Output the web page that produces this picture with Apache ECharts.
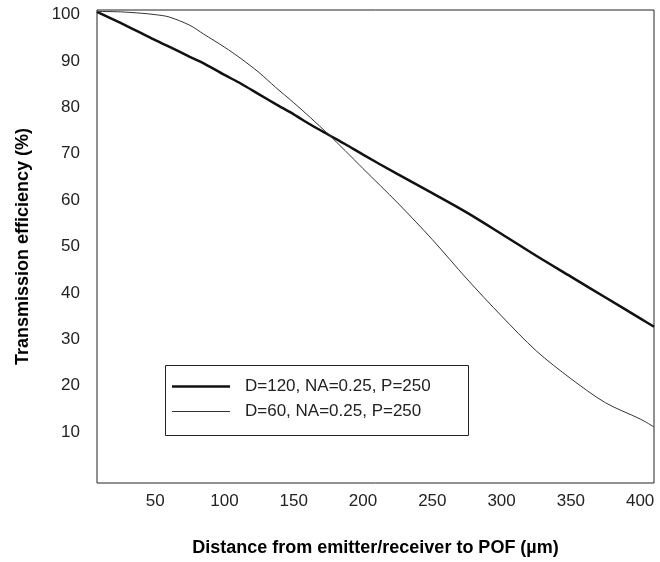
<!DOCTYPE html>
<html>
<head>
<meta charset="utf-8">
<script src="https://cdn.jsdelivr.net/npm/echarts@6/dist/echarts.min.js"></script>
<style>html,body{margin:0;padding:0;background:#fff;}#c{width:660px;height:562px;}</style>
</head>
<body>
<div id="c"></div>
<script>
// Distance from emitter/receiver to POF (µm)
const distance = [8, 25, 40, 50, 60, 75, 85, 100, 112, 125, 137, 150, 162, 175, 187, 200, 225, 250, 275, 300, 325, 350, 375, 400, 410];
// Transmission efficiency (%)
const effD120 = [100.6, 98.2, 96.0, 94.5, 93.1, 90.9, 89.5, 87.0, 85.1, 82.8, 80.7, 78.5, 76.3, 74.1, 72.1, 69.8, 65.6, 61.5, 57.3, 52.7, 48.0, 43.5, 39.0, 34.5, 32.7];
const effD60  = [100.7, 100.6, 100.3, 100.0, 99.5, 97.7, 95.8, 93.0, 90.5, 87.5, 84.3, 81.0, 77.8, 74.2, 70.7, 66.8, 59.4, 51.5, 43.0, 35.0, 27.5, 21.5, 16.3, 12.8, 11.1];
const xTicks = [50, 100, 150, 200, 250, 300, 350, 400];
const yTicks = [10, 20, 30, 40, 50, 60, 70, 80, 90, 100];
const seriesNames = ['D=120, NA=0.25, P=250', 'D=60, NA=0.25, P=250'];

const pair = (xs, ys) => xs.map((x, i) => [x, ys[i]]);
const font = 'Arial, "Liberation Sans", sans-serif';

const chart = echarts.init(document.getElementById('c'));
chart.setOption({
  animation: false,
  backgroundColor: '#fff',
  grid: { left: 97, top: 10, right: 6, bottom: 79, show: true, borderColor: '#222', borderWidth: 1, backgroundColor: 'transparent' },
  xAxis: {
    type: 'value', min: 8, max: 410,
    name: 'Distance from emitter/receiver to POF (µm)',
    nameLocation: 'middle', nameGap: 56,
    nameTextStyle: { fontFamily: font, fontSize: 18, fontWeight: 'bold', color: '#000' },
    axisLine: { show: false }, axisTick: { show: false }, splitLine: { show: false },
    axisLabel: { customValues: xTicks, margin: 10, fontFamily: font, fontSize: 17, color: '#222' }
  },
  yAxis: {
    type: 'value', min: -1, max: 101,
    name: 'Transmission efficiency (%)',
    nameLocation: 'middle', nameGap: 65, nameRotate: 90,
    nameTextStyle: { fontFamily: font, fontSize: 18, fontWeight: 'bold', color: '#000' },
    axisLine: { show: false }, axisTick: { show: false }, splitLine: { show: false },
    axisLabel: { customValues: yTicks, margin: 17, fontFamily: font, fontSize: 17, color: '#222' }
  },
  legend: {
    orient: 'vertical', left: 172, top: 378, padding: 0, itemGap: 8,
    itemWidth: 58, itemHeight: 14,
    textStyle: { fontFamily: font, fontSize: 17, color: '#222', padding: [0, 0, 0, 10] },
    data: [
      { name: seriesNames[0], icon: 'path://M0,0H58V2.5H0Z', itemStyle: { color: '#111' } },
      { name: seriesNames[1], icon: 'path://M0,0H58V1H0Z', itemStyle: { color: '#333' } }
    ]
  },
  graphic: [{
    type: 'rect', left: 163, top: 363, z: 100,
    shape: { width: 303, height: 70 },
    style: { fill: 'none', stroke: '#222', lineWidth: 1 }
  }],
  series: [
    { name: seriesNames[0], type: 'line', data: pair(distance, effD120), smooth: 0.3, symbol: 'none',
      lineStyle: { color: '#111', width: 2.5 }, itemStyle: { color: '#111' } },
    { name: seriesNames[1], type: 'line', data: pair(distance, effD60), smooth: 0.3, symbol: 'none',
      lineStyle: { color: '#333', width: 1 }, itemStyle: { color: '#333' } }
  ]
});
</script>
</body>
</html>
